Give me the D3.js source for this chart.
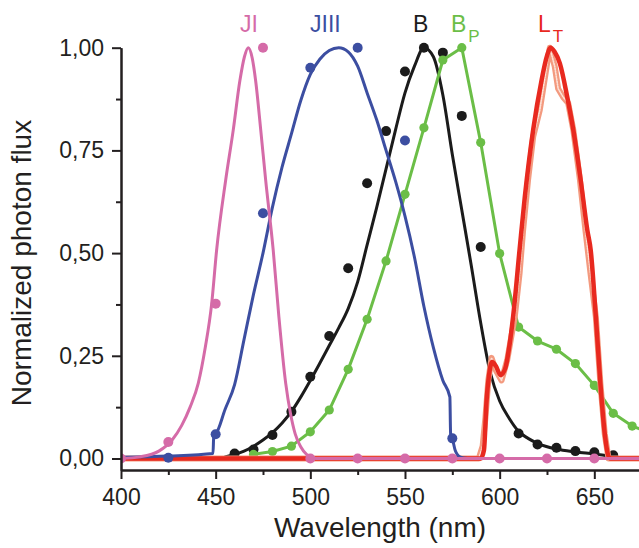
<!DOCTYPE html>
<html>
<head>
<meta charset="utf-8">
<script src="https://cdn.jsdelivr.net/npm/d3@7"></script>
<style>
  html, body { margin: 0; padding: 0; background: #fff; }
  svg { display: block; font-family: Arial, "Liberation Sans", Helvetica, sans-serif; }
</style>
</head>
<body>
<svg width="639" height="548"></svg>
<script>
// values: [wavelength nm, normalized flux]
var jiCurve = [[400,0],[410,0.004],[420,0.018],[427,0.045],[432,0.08],[436.5,0.125],[440.8,0.183],[444.5,0.27],[447.9,0.377],[450.5,0.507],[455.3,0.678],[459.3,0.8],[462.8,0.92],[465.2,0.978],[467.2,1],[469.3,0.975],[471.1,0.92],[473.8,0.8],[476.4,0.678],[480.4,0.507],[483.4,0.345],[487,0.183],[489.5,0.11],[492,0.06],[495,0.028],[498,0.01],[503,0],[673.6,0]]
var jiDots = [[400,0],[425,0.04],[450,0.377],[475,1],[500,0],[525,0],[550,0],[575,0],[600,0],[625,0],[650,0]]

var jiiiCurve = [[400,0.003],[425,0.006],[448.6,0.012],[449,0.058],[450,0.06],[455,0.12],[460,0.18],[465,0.29],[470,0.4],[475,0.5],[480,0.612],[485,0.708],[490,0.79],[495,0.872],[500,0.935],[505,0.972],[510,0.993],[515,1],[520,0.99],[525,0.955],[530,0.89],[535,0.825],[540,0.75],[545,0.675],[550,0.59],[555,0.49],[560,0.37],[565,0.27],[570,0.19],[573.7,0.15],[574.1,0.06],[575,0.049],[576.5,0.02],[579,0.004],[583,0]]
var jiiiDots = [[425,0.002],[450,0.059],[475,0.597],[500,0.951],[525,1],[550,0.774],[575,0.049]]

var bCurve = [[455,0.004],[460,0.01],[465,0.018],[470,0.03],[475,0.045],[480,0.063],[485,0.086],[490,0.114],[495,0.15],[500,0.19],[505,0.232],[510,0.275],[515,0.318],[520,0.365],[525,0.43],[530,0.52],[535,0.61],[540,0.705],[545,0.8],[550,0.89],[555,0.955],[560,1],[565,0.978],[570,0.885],[575,0.74],[580,0.605],[585,0.47],[590,0.33],[595,0.21],[600,0.14],[605,0.098],[610,0.066],[615,0.049],[620,0.037],[630,0.023],[640,0.016],[650,0.011],[660,0.005]]
var bDots = [[460,0.012],[470,0.022],[480,0.057],[490,0.114],[500,0.199],[510,0.298],[520,0.463],[530,0.67],[540,0.797],[550,0.942],[560,1],[570,0.988],[580,0.834],[590,0.515],[610,0.061],[620,0.034],[630,0.026],[640,0.018],[650,0.015],[660,0.008]]

var bpPoints = [[470,0.01],[480,0.017],[490,0.03],[500,0.065],[510,0.118],[520,0.217],[530,0.339],[540,0.481],[550,0.643],[560,0.805],[570,0.97],[580,1],[590,0.769],[600,0.499],[610,0.32],[620,0.286],[630,0.266],[640,0.231],[650,0.178],[660,0.11],[670,0.079],[680,0.062]]

var ltCurve = [[400,0],[590,0],[591.7,0.02],[593.1,0.142],[594.3,0.2],[596,0.235],[598,0.225],[600.5,0.203],[603,0.22],[605,0.27],[607.1,0.345],[610.5,0.507],[613.3,0.637],[617.7,0.8],[622.1,0.92],[625,0.98],[626.9,1],[629,0.99],[631.8,0.962],[635.7,0.88],[638.9,0.8],[642.8,0.678],[646.3,0.556],[648.1,0.507],[650.8,0.345],[653.2,0.183],[655.5,0.061],[657.3,0.008],[658.5,0],[673.6,0]]
var ltMeasured = [[400,0],[589,0],[591,0.03],[592.5,0.1],[594,0.19],[595.7,0.245],[598,0.215],[601,0.19],[604,0.24],[608,0.345],[610.5,0.45],[612.4,0.556],[615,0.678],[617.7,0.783],[621.2,0.848],[624,0.93],[625.6,0.978],[626.5,1],[629.1,0.954],[630.9,0.9],[633.5,0.88],[636.2,0.865],[638.9,0.8],[642.4,0.678],[645.3,0.556],[648,0.45],[650.8,0.345],[653.2,0.183],[655.5,0.06],[657.5,0],[673.6,0]]

var xMajor = [400, 450, 500, 550, 600, 650]
var xMinor = [425, 475, 525, 575, 625]
var yMajor = [0, 0.25, 0.5, 0.75, 1]
var yMinor = [0.125, 0.375, 0.625, 0.875]

var pink = '#d56ba8', blue = '#3c4ea1', black = '#1b1b1b', green = '#6bbe47', red = '#e8291f', salmon = '#f39a7f'
var ink = '#231f20'

var svg = d3.select('svg')
var x = d3.scaleLinear().domain([400, 673.6]).range([121, 639])
var y = d3.scaleLinear().domain([-0.028, 1]).range([470, 47.7])

var comma = d3.formatLocale({decimal: ',', thousands: '.', grouping: [3], currency: ['', '']}).format('.2f')

svg.append('clipPath').attr('id', 'plot')
  .append('rect').attr('x', 121).attr('y', 0).attr('width', 518).attr('height', 470)

var plot = svg.append('g').attr('clip-path', 'url(#plot)')

function line(curve) {
  return d3.line().x(function(d) { return x(d[0]) }).y(function(d) { return y(d[1]) }).curve(curve)
}

function drawLine(data, color, width, curve) {
  return plot.append('path').datum(data)
    .attr('fill', 'none').attr('stroke', color).attr('stroke-width', width)
    .attr('stroke-linejoin', 'round').attr('stroke-linecap', 'round')
    .attr('d', line(curve))
}

function drawDots(data, color, r) {
  plot.append('g').selectAll('circle').data(data).enter().append('circle')
    .attr('cx', function(d) { return x(d[0]) })
    .attr('cy', function(d) { return y(d[1]) })
    .attr('r', r).attr('fill', color)
}

// B
drawLine(bCurve, black, 3, d3.curveMonotoneX)
drawDots(bDots, black, 5)

// B_P
drawLine(bpPoints, green, 3, d3.curveLinear)
drawDots(bpPoints, green, 4.6)

// L_T measured band (ringed look) and fit
drawLine(ltMeasured, salmon, 6, d3.curveLinear)
drawLine(ltMeasured, '#fde2d8', 1.6, d3.curveLinear).attr('stroke-dasharray', '1.2 1.4')
drawLine(ltCurve, red, 4.5, d3.curveMonotoneX)

// JIII
drawLine(jiiiCurve, blue, 3, d3.curveMonotoneX)
drawDots(jiiiDots, blue, 5)

// JI
drawLine(jiCurve, pink, 3, d3.curveMonotoneX)
drawDots(jiDots, pink, 5)

// axes
function styleAxis(g) {
  g.select('.domain').attr('stroke', ink).attr('stroke-width', 2)
  g.selectAll('.tick line').attr('stroke', ink).attr('stroke-width', 2)
  g.selectAll('.tick text').attr('fill', ink).style('font-size', '23px')
}

svg.append('g').attr('transform', 'translate(0,470)')
  .call(d3.axisBottom(x).tickValues(xMajor).tickSize(9).tickSizeOuter(0).tickPadding(10))
  .call(styleAxis)
svg.append('g').attr('transform', 'translate(0,470)')
  .call(d3.axisBottom(x).tickValues(xMinor).tickSize(5).tickSizeOuter(0).tickFormat(''))
  .call(styleAxis)

svg.append('g').attr('transform', 'translate(121,0)')
  .call(d3.axisLeft(y).tickValues(yMajor).tickSize(9).tickSizeOuter(0).tickPadding(8).tickFormat(comma))
  .call(styleAxis)
svg.append('g').attr('transform', 'translate(121,0)')
  .call(d3.axisLeft(y).tickValues(yMinor).tickSize(5).tickSizeOuter(0).tickFormat(''))
  .call(styleAxis)

// axis titles
svg.append('text').attr('x', 380).attr('y', 537).attr('text-anchor', 'middle')
  .attr('fill', ink).style('font-size', '28px').text('Wavelength (nm)')
svg.append('text').attr('transform', 'translate(31,263) rotate(-90)').attr('text-anchor', 'middle')
  .attr('fill', ink).style('font-size', '28px').text('Normalized photon flux')

// series labels
var labels = [
  {x: 240, main: 'JI', sub: '', color: pink},
  {x: 310, main: 'JIII', sub: '', color: blue},
  {x: 413, main: 'B', sub: '', color: black},
  {x: 451, main: 'B', sub: 'P', color: green},
  {x: 538, main: 'L', sub: 'T', color: red}
]
labels.forEach(function(l) {
  var t = svg.append('text').attr('x', l.x).attr('y', 32).attr('fill', l.color).style('font-size', '23px')
  t.append('tspan').text(l.main)
  if (l.sub) t.append('tspan').attr('dx', 2).attr('dy', 10).style('font-size', '17px').text(l.sub)
})
</script>
</body>
</html>
